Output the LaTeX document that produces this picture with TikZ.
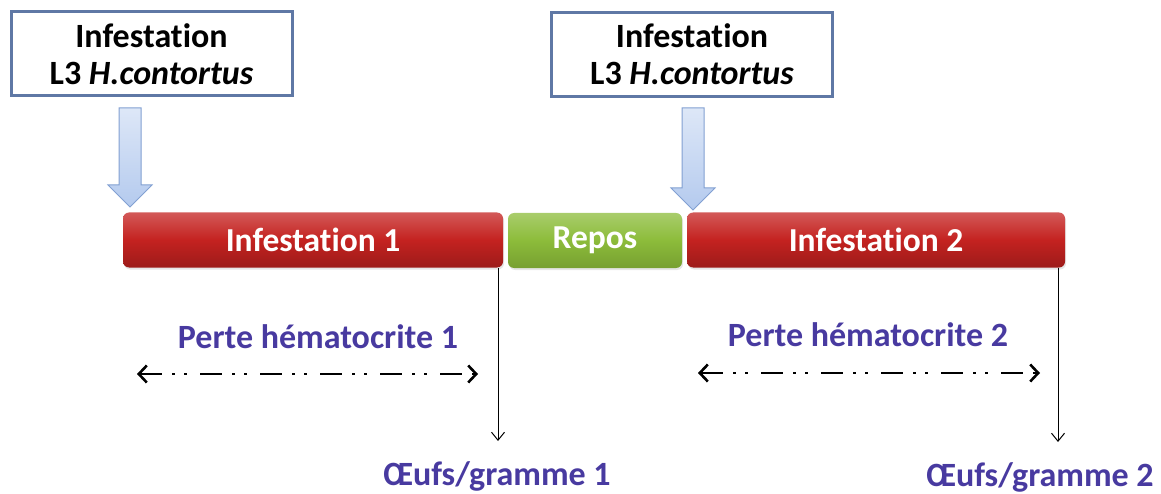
\documentclass[tikz,border=0pt]{standalone}
\usepackage{fontspec}
\setmainfont{Carlito}[Ligatures=NoCommon]
\usetikzlibrary{arrows.meta, shadows}

\definecolor{boxline}{RGB}{95,120,165}
\definecolor{arrowfill}{RGB}{180,202,238}
\definecolor{arrowline}{RGB}{130,160,210}
\definecolor{barred}{RGB}{196,34,32}
\definecolor{bargreen}{RGB}{140,188,58}
\definecolor{labelblue}{RGB}{72,58,160}

\tikzset{
  infobox/.style={draw=boxline, line width=3pt, fill=white, minimum width=281pt, minimum height=84pt, align=center, inner sep=0pt, font=\bfseries\fontsize{34}{37}\selectfont},
  phasebar/.style={rounded corners=6pt, minimum height=55pt, inner sep=0pt, text=white, font=\bfseries\fontsize{33.5}{37}\selectfont, drop shadow={opacity=0.2, shadow xshift=1pt, shadow yshift=-2pt}},
  redbar/.style={phasebar, top color=barred!75!white, bottom color=barred!80!black, middle color=barred},
  greenbar/.style={phasebar, top color=bargreen!75!white, bottom color=bargreen!85!black, middle color=bargreen},
  measure/.style={text=labelblue, font=\bfseries\fontsize{34}{38}\selectfont},
  hspan/.style={{Straight Barb[length=8pt, width=17pt]}-{Straight Barb[length=8pt, width=17pt]}, line width=2.6pt, dash pattern=on 22pt off 10pt on 3pt off 9pt on 3pt off 13pt},
  readout/.style={-{Straight Barb[length=8pt, width=13pt]}, line width=1pt},
  blockarrow/.style={draw=arrowline, line width=1pt, top color=arrowfill!45!white, bottom color=arrowfill},
}

\begin{document}
\begin{tikzpicture}[x=1pt, y=-1pt]

\useasboundingbox (0,0) rectangle (1161,494);

% inoculations
\node[infobox] (inoc1) at (151.5,54) {Infestation\\L3 \textit{H.contortus}};
\node[infobox] (inoc2) at (692,54.5) {Infestation\\L3 \textit{H.contortus}};

\foreach \ax/\at in {130/207, 693/210}
  \path[blockarrow] ({\ax-11},108)--++(22,0)--++(0,{\at-108-22})--++(11,0)--({\ax},\at)--++(-22,-22)--++(11,0)--cycle;

% phases
\node[redbar, minimum width=380pt] (inf1) at (313,240) {Infestation 1};
\node[greenbar, minimum width=174pt] (repos) at (595,240.5) {Repos};
\node[redbar, minimum width=378pt] (inf2) at (876,240) {Infestation 2};

% hematocrit
\node[measure] (hem1) at (318,337) {Perte hématocrite 1};
\node[measure] (hem2) at (868,335) {Perte hématocrite 2};

\coordinate (h1a) at (137,374);
\coordinate (h1b) at (478,374);
\coordinate (h2a) at (698,373);
\coordinate (h2b) at (1040,373);
\draw[hspan] (h1a) -- (h1b);
\draw[hspan] (h2a) -- (h2b);

% egg counts
\node[measure] (egg1) at (497,476) {Œufs/gramme 1};
\node[measure] (egg2) at (1040,477) {Œufs/gramme 2};

\coordinate (v1a) at (498,268);
\coordinate (v1b) at (498,441);
\coordinate (v2a) at (1058,268);
\coordinate (v2b) at (1058,442);
\draw[readout] (v1a) -- (v1b);
\draw[readout] (v2a) -- (v2b);

\end{tikzpicture}
\end{document}
